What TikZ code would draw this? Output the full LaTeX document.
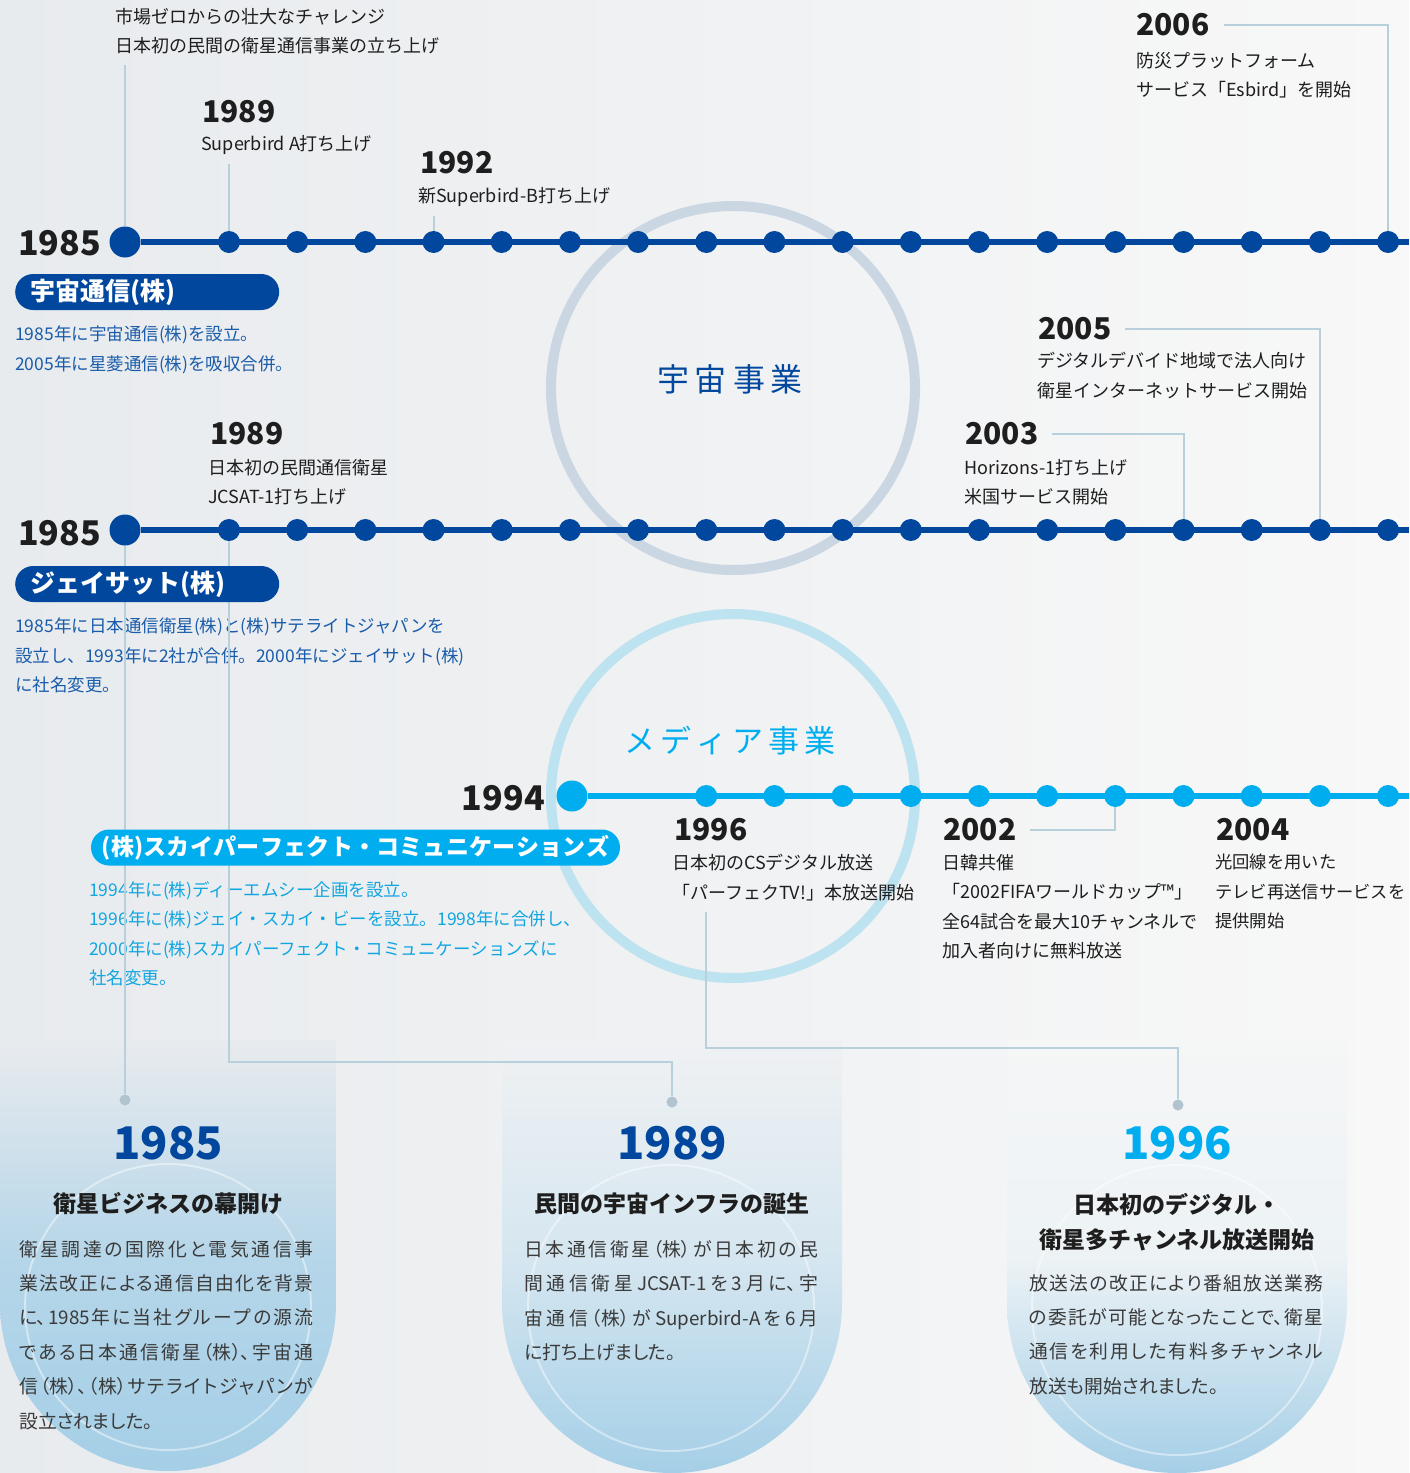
\documentclass[tikz,border=0pt]{standalone}
\usepackage{fontspec}
\usepackage{xcolor}
\setmainfont{Noto Sans CJK JP}
\newfontfamily\bodyfont{Noto Sans CJK JP}[RawFeature={+palt}]
\usetikzlibrary{calc}
\XeTeXlinebreaklocale "ja"
\XeTeXlinebreakskip=0pt plus 5pt
\XeTeXlinebreakpenalty=10000

\definecolor{navy}{HTML}{00479D}
\definecolor{sky}{HTML}{00AEEF}
\definecolor{navytxt}{HTML}{1A5CAA}
\definecolor{skytxt}{HTML}{12A6E0}
\definecolor{leadc}{HTML}{B8CFDC}
\definecolor{ringa}{HTML}{CBD6E3}
\definecolor{ringb}{HTML}{BDE2F0}
\definecolor{panelc}{HTML}{A5CFE7}
\definecolor{ink}{HTML}{1E1E1E}
\definecolor{bodyc}{HTML}{3A3A3A}
\definecolor{bgl}{HTML}{E8EBEE}
\definecolor{bgr}{HTML}{F8F8F8}

\begin{document}
\begin{tikzpicture}[x=1pt, y=-1pt,
    evdot/.style = {circle, fill=#1, inner sep=0pt, minimum size=22pt},
    bigdot/.style = {circle, fill=#1, inner sep=0pt, minimum size=31pt},
    endpt/.style = {circle, fill=leadc!85!gray, inner sep=0pt, minimum size=11pt},
    tl/.style = {draw=#1, line width=6pt},
    lead/.style = {draw=leadc, line width=2pt},
    ring/.style = {draw=#1, line width=10pt},
    yr/.style = {font=\fontsize{30}{30}\selectfont\bfseries, text=ink, inner sep=0pt},
    bigyr/.style = {font=\fontsize{34}{34}\selectfont\bfseries, text=ink, inner sep=0pt},
    lbl/.style = {font=\fontsize{18}{29.5}\selectfont, text=ink, align=left, inner sep=0pt},
    note/.style = {font=\fontsize{17.5}{29.5}\selectfont, text=#1, align=left, inner sep=0pt},
    pill/.style = {fill=#1, rounded corners=18pt, text=white, font=\fontsize{25}{25}\selectfont\bfseries, minimum height=36pt, inner xsep=15pt, inner ysep=0pt},
    pyr/.style = {font=\fontsize{45}{45}\selectfont\bfseries, text=#1, inner sep=0pt},
    phead/.style = {font=\fontsize{23}{35}\selectfont\bfseries, text=ink, align=center, inner sep=0pt},
    pbody/.style = {font=\bodyfont\fontsize{18.8}{34.4}\selectfont, text=bodyc, text width=294pt, align=justify, inner sep=0pt}
    ]
    \shade[left color=bgl, right color=bgr] (0,0) rectangle (1409,1473);
    \useasboundingbox (0,0) rectangle (1409,1473);

    % business circles
    \draw[ring=ringa] (733,388) circle[radius=182pt];
    \draw[ring=ringb] (733,796) circle[radius=182pt];
    \node[font=\fontsize{32}{32}\selectfont, text=navy] (space) at (730,379) {宇\hspace{6pt}宙\hspace{6pt}事\hspace{6pt}業};
    \node[font=\fontsize{31}{31}\selectfont, text=sky] (media) at (730,741) {メ\hspace{5pt}デ\hspace{5pt}ィ\hspace{5pt}ア\hspace{5pt}事\hspace{5pt}業};

    % panels
    \shade[top color=bgl, bottom color=panelc, middle color=panelc!75!bgl] (0,1040) -- (0,1303) arc[start angle=180, end angle=360, radius=168pt] -- (336,1040) -- cycle;
    \shade[top color=bgl!52!bgr, bottom color=panelc, middle color=panelc!75!bgl!52!bgr] (502,1040) -- (502,1303) arc[start angle=180, end angle=360, radius=170pt] -- (842,1040) -- cycle;
    \shade[top color=bgl!17!bgr, bottom color=panelc, middle color=panelc!75!bgl!17!bgr] (1007,1040) -- (1007,1303) arc[start angle=180, end angle=360, radius=170pt] -- (1347,1040) -- cycle;
    \draw[white, opacity=.45, line width=2pt] (168,1307) circle[radius=143pt];
    \draw[white, opacity=.45, line width=2pt] (671,1308) circle[radius=143pt];
    \draw[white, opacity=.45, line width=2pt] (1177,1310) circle[radius=145pt];

    % timelines
    \node[bigdot=navy] (s1) at (125,242) {};
    \node[bigdot=navy] (s2) at (125,530) {};
    \node[bigdot=sky] (s3) at (572,796) {};
    \foreach \i in {1,...,18} {
        \pgfmathsetmacro\px{229+(\i-1)*68.18}
        \node[evdot=navy] (a\i) at (\px,242) {};
        \node[evdot=navy] (b\i) at (\px,530) {};
    }
    \foreach \i in {8,...,18} {
        \pgfmathsetmacro\px{229+(\i-1)*68.18}
        \node[evdot=sky] (m\i) at (\px,796) {};
    }
    \coordinate (e1) at (1409,242);
    \coordinate (e2) at (1409,530);
    \coordinate (e3) at (1409,796);
    \draw[tl=navy] (s1) -- (e1);
    \draw[tl=navy] (s2) -- (e2);
    \draw[tl=sky] (s3) -- (e3);

    % texts, line 1
    \node[lbl, anchor=north west] (t85) at (115,8) {市場ゼロからの壮大なチャレンジ\\日本初の民間の衛星通信事業の立ち上げ};
    \node[yr, anchor=west] (y89a) at (202,112) {1989};
    \node[lbl, anchor=west] (l89a) at (201,145) {Superbird A打ち上げ};
    \node[yr, anchor=west] (y92) at (420,163) {1992};
    \node[lbl, anchor=west] (l92) at (418,197) {新Superbird-B打ち上げ};
    \node[yr, anchor=west] (y06) at (1136,25) {2006};
    \node[lbl, anchor=north west] (l06) at (1136,52) {防災プラットフォーム\\サービス「Esbird」を開始};
    \node[bigyr, anchor=west] (y85a) at (18,243) {1985};
    \node[note=navytxt, anchor=north west] (n1) at (15,326) {1985年に宇宙通信(株)を設立。\\2005年に星菱通信(株)を吸収合併。};

    % texts, line 2
    \node[yr, anchor=west] (y89b) at (210,434) {1989};
    \node[lbl, anchor=north west] (l89b) at (208,459) {日本初の民間通信衛星\\JCSAT-1打ち上げ};
    \node[yr, anchor=west] (y03) at (965,434) {2003};
    \node[lbl, anchor=north west] (l03) at (964,459) {Horizons-1打ち上げ\\米国サービス開始};
    \node[yr, anchor=west] (y05) at (1038,329) {2005};
    \node[lbl, anchor=north west] (l05) at (1037,352) {デジタルデバイド地域で法人向け\\衛星インターネットサービス開始};
    \node[bigyr, anchor=west] (y85b) at (18,533) {1985};
    \node[note=navytxt, anchor=north west] (n2) at (15,618) {1985年に日本通信衛星(株)と(株)サテライトジャパンを\\設立し、1993年に2社が合併。2000年にジェイサット(株)\\に社名変更。};

    % texts, line 3
    \node[bigyr, anchor=east] (y94) at (545,798) {1994};
    \node[note=skytxt, anchor=north west] (n3) at (89,881) {1994年に(株)ディーエムシー企画を設立。\\1996年に(株)ジェイ・スカイ・ビーを設立。1998年に合併し、\\2000年に(株)スカイパーフェクト・コミュニケーションズに\\社名変更。};
    \node[yr, anchor=west] (y96) at (674,830) {1996};
    \node[lbl, anchor=north west] (l96) at (672,854) {日本初のCSデジタル放送\\「パーフェクTV!」本放送開始};
    \node[yr, anchor=west] (y02) at (943,830) {2002};
    \node[lbl, anchor=north west] (l02) at (942,854) {日韓共催\\「2002FIFAワールドカップ™」\\全64試合を最大10チャンネルで\\加入者向けに無料放送};
    \node[yr, anchor=west] (y04) at (1216,830) {2004};
    \node[lbl, font=\fontsize{17.3}{29.5}\selectfont, anchor=north west] (l04) at (1215,854) {光回線を用いた\\テレビ再送信サービスを\\提供開始};

    % leads
    \node[endpt] (d1) at (125,1100) {};
    \node[endpt] (d2) at (672,1102) {};
    \node[endpt] (d3) at (1178,1105) {};
    \coordinate (k2) at (672,1062);
    \coordinate (k3) at (1178,1048);
    \draw[lead] ($(t85.south -| s1)+(0,10)$) -- (s1);
    \draw[lead] ($(l89a.south -| a1)+(0,9)$) -- (a1);
    \draw[lead] ($(l92.south -| a4)+(0,9)$) -- (a4);
    \draw[lead] ($(y06.east)+(15,0)$) -| (a18);
    \draw[lead] ($(y03.east)+(14,0)$) -| (b15);
    \draw[lead] ($(y05.east)+(14,0)$) -| (b17);
    \draw[lead] ($(y02.east)+(14,0)$) -| (m14);
    \draw[lead] (s2) -- (d1);
    \draw[lead] (b1) |- (k2) -- (d2);
    \draw[lead] ($(l96.south -| m8)+(0,11)$) |- (k3) -- (d3);

    % company pills
    \node[pill=navy, anchor=west, text width=234pt, align=left] (p1) at (15,292) {宇宙通信(株)};
    \node[pill=navy, anchor=west, text width=234pt, align=left] (p2) at (15,584) {ジェイサット(株)};
    \node[pill=sky, font=\fontsize{23}{23}\selectfont\bfseries, text width=513pt, inner xsep=8pt, align=center] (p3) at (355.5,847.5) {(株)スカイパーフェクト・コミュニケーションズ};

    % panel texts
    \node[pyr=navy] (py1) at (168,1143) {1985};
    \node[phead] (ph1) at (168,1204) {衛星ビジネスの幕開け};
    \node[pbody, anchor=north west] (pb1) at (19,1240) {衛星調達の国際化と電気通信事\linebreak 業法改正による通信自由化を背景\linebreak に、1985年に当社グループの源流\linebreak である日本通信衛星（株）、宇宙通\linebreak 信（株）、（株）サテライトジャパンが\linebreak 設立されました。};
    \node[pyr=navy] (py2) at (672,1143) {1989};
    \node[phead] (ph2) at (672,1204) {民間の宇宙インフラの誕生};
    \node[pbody, anchor=north west] (pb2) at (524,1240) {日本通信衛星（株）が日本初の民\linebreak 間通信衛星JCSAT-1を3月に、宇\linebreak 宙通信（株）がSuperbird-Aを6月\linebreak に打ち上げました。};
    \node[pyr=sky] (py3) at (1177,1143) {1996};
    \node[phead] (ph3) at (1177,1222.5) {日本初のデジタル・\\衛星多チャンネル放送開始};
    \node[pbody, anchor=north west] (pb3) at (1029,1274) {放送法の改正により番組放送業務\linebreak の委託が可能となったことで、衛星\linebreak 通信を利用した有料多チャンネル\linebreak 放送も開始されました。};

\end{tikzpicture}
\end{document}
